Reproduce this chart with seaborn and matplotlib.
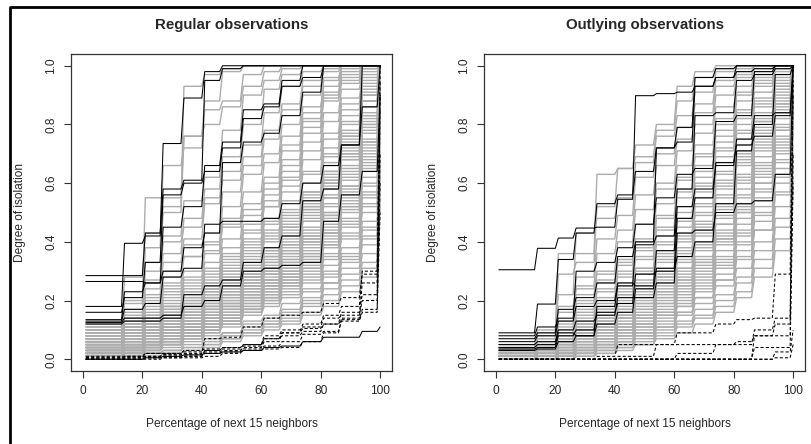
import numpy as np
import pandas as pd
import matplotlib
matplotlib.use("Agg")
import matplotlib.pyplot as plt
import seaborn as sns
from matplotlib.lines import Line2D

# x positions where the step curves change level (percentage of next 15 neighbors)
step_edges = [13.5, 20.5, 26.5, 33.5, 40.5, 46.5, 53.5, 60.5, 66.5, 73.5, 80.5, 86.5, 93.5, 99.5]
x_grid = np.arange(1, 101)

x_ticks = [0, 20, 40, 60, 80, 100]
y_ticks = [0.0, 0.2, 0.4, 0.6, 0.8, 1.0]
titles = ["Regular observations", "Outlying observations"]
x_label = "Percentage of next 15 neighbors"
y_label = "Degree of isolation"

# ---- Regular observations: level of each curve on the 15 steps ----
regular_gray = [
    [0.10, 0.20, 0.55, 0.55, 0.76, 0.88, 0.98, 1.00, 1.00, 1.00, 1.00, 1.00, 1.00, 1.00, 1.00],
    [0.09, 0.28, 0.43, 0.52, 0.93, 0.97, 0.99, 1.00, 1.00, 1.00, 1.00, 1.00, 1.00, 1.00, 1.00],
    [0.08, 0.15, 0.38, 0.66, 0.72, 0.85, 0.88, 0.97, 1.00, 1.00, 1.00, 1.00, 1.00, 1.00, 1.00],
    [0.11, 0.19, 0.33, 0.50, 0.76, 0.80, 0.86, 0.93, 0.98, 1.00, 1.00, 1.00, 1.00, 1.00, 1.00],
    [0.07, 0.14, 0.30, 0.42, 0.54, 0.62, 0.78, 0.90, 0.95, 0.99, 1.00, 1.00, 1.00, 1.00, 1.00],
    [0.06, 0.12, 0.24, 0.36, 0.48, 0.58, 0.69, 0.80, 0.92, 0.97, 1.00, 1.00, 1.00, 1.00, 1.00],
    [0.12, 0.17, 0.27, 0.40, 0.45, 0.55, 0.64, 0.73, 0.84, 0.93, 0.98, 1.00, 1.00, 1.00, 1.00],
    [0.10, 0.16, 0.22, 0.33, 0.41, 0.53, 0.61, 0.69, 0.78, 0.87, 0.95, 0.99, 1.00, 1.00, 1.00],
    [0.09, 0.13, 0.21, 0.28, 0.39, 0.43, 0.57, 0.66, 0.75, 0.85, 0.93, 0.98, 1.00, 1.00, 1.00],
    [0.08, 0.11, 0.18, 0.26, 0.35, 0.40, 0.52, 0.63, 0.70, 0.80, 0.90, 0.96, 0.99, 1.00, 1.00],
    [0.07, 0.10, 0.16, 0.25, 0.30, 0.37, 0.48, 0.57, 0.67, 0.76, 0.86, 0.93, 0.98, 1.00, 1.00],
    [0.06, 0.10, 0.15, 0.22, 0.28, 0.36, 0.46, 0.53, 0.62, 0.73, 0.82, 0.90, 0.96, 0.99, 1.00],
    [0.05, 0.09, 0.14, 0.21, 0.25, 0.33, 0.41, 0.51, 0.58, 0.68, 0.79, 0.88, 0.94, 0.98, 1.00],
    [0.07, 0.09, 0.13, 0.19, 0.24, 0.31, 0.38, 0.46, 0.56, 0.64, 0.74, 0.84, 0.92, 0.97, 1.00],
    [0.04, 0.08, 0.12, 0.18, 0.23, 0.28, 0.36, 0.43, 0.52, 0.62, 0.71, 0.81, 0.89, 0.96, 1.00],
    [0.06, 0.08, 0.12, 0.17, 0.21, 0.27, 0.33, 0.41, 0.48, 0.57, 0.68, 0.77, 0.87, 0.94, 1.00],
    [0.05, 0.07, 0.11, 0.16, 0.20, 0.25, 0.31, 0.38, 0.46, 0.54, 0.64, 0.75, 0.83, 0.92, 0.99],
    [0.03, 0.07, 0.10, 0.15, 0.19, 0.24, 0.30, 0.36, 0.43, 0.51, 0.60, 0.70, 0.81, 0.90, 0.98],
    [0.04, 0.06, 0.10, 0.14, 0.18, 0.23, 0.28, 0.34, 0.41, 0.49, 0.57, 0.67, 0.77, 0.88, 0.97],
    [0.05, 0.06, 0.09, 0.13, 0.17, 0.22, 0.27, 0.32, 0.38, 0.46, 0.54, 0.64, 0.74, 0.86, 0.96],
    [0.03, 0.05, 0.09, 0.12, 0.16, 0.21, 0.26, 0.31, 0.36, 0.43, 0.51, 0.61, 0.71, 0.83, 0.95],
    [0.04, 0.05, 0.08, 0.12, 0.15, 0.20, 0.25, 0.30, 0.35, 0.41, 0.49, 0.58, 0.68, 0.80, 0.93],
    [0.02, 0.05, 0.08, 0.11, 0.15, 0.19, 0.24, 0.28, 0.33, 0.39, 0.47, 0.55, 0.65, 0.77, 0.91],
    [0.03, 0.04, 0.07, 0.11, 0.14, 0.18, 0.23, 0.27, 0.32, 0.37, 0.44, 0.52, 0.62, 0.74, 0.89],
    [0.02, 0.04, 0.07, 0.10, 0.13, 0.17, 0.22, 0.26, 0.30, 0.35, 0.42, 0.50, 0.59, 0.71, 0.87],
    [0.02, 0.04, 0.06, 0.09, 0.12, 0.16, 0.20, 0.24, 0.28, 0.33, 0.40, 0.47, 0.56, 0.68, 0.85],
    [0.01, 0.03, 0.06, 0.09, 0.12, 0.15, 0.19, 0.23, 0.27, 0.31, 0.37, 0.45, 0.53, 0.65, 0.82],
    [0.03, 0.03, 0.05, 0.08, 0.11, 0.14, 0.18, 0.22, 0.25, 0.30, 0.35, 0.42, 0.50, 0.62, 0.80],
    [0.02, 0.03, 0.05, 0.08, 0.10, 0.13, 0.17, 0.21, 0.24, 0.28, 0.33, 0.40, 0.48, 0.59, 0.77],
    [0.01, 0.03, 0.05, 0.07, 0.10, 0.13, 0.16, 0.20, 0.23, 0.27, 0.31, 0.38, 0.45, 0.56, 0.74],
    [0.02, 0.02, 0.04, 0.07, 0.09, 0.12, 0.15, 0.19, 0.22, 0.26, 0.30, 0.36, 0.43, 0.53, 0.71],
    [0.01, 0.02, 0.04, 0.06, 0.09, 0.11, 0.14, 0.18, 0.21, 0.24, 0.28, 0.34, 0.41, 0.50, 0.68],
    [0.00, 0.02, 0.04, 0.06, 0.08, 0.11, 0.14, 0.17, 0.20, 0.23, 0.27, 0.32, 0.38, 0.47, 0.65],
    [0.01, 0.02, 0.03, 0.05, 0.08, 0.10, 0.13, 0.16, 0.19, 0.22, 0.26, 0.30, 0.36, 0.45, 0.62],
    [0.00, 0.01, 0.03, 0.05, 0.07, 0.10, 0.12, 0.15, 0.18, 0.21, 0.24, 0.29, 0.34, 0.42, 0.59],
    [0.10, 0.13, 0.17, 0.24, 0.26, 0.29, 0.34, 0.44, 0.60, 0.71, 0.84, 0.95, 1.00, 1.00, 1.00],
    [0.08, 0.12, 0.19, 0.23, 0.27, 0.30, 0.35, 0.39, 0.47, 0.61, 0.77, 0.91, 0.97, 1.00, 1.00],
    [0.06, 0.09, 0.14, 0.18, 0.22, 0.26, 0.30, 0.40, 0.54, 0.59, 0.63, 0.72, 0.85, 0.95, 1.00],
    [0.04, 0.07, 0.10, 0.13, 0.17, 0.21, 0.29, 0.37, 0.44, 0.50, 0.57, 0.69, 0.80, 0.91, 1.00],
    [0.03, 0.05, 0.08, 0.12, 0.14, 0.18, 0.21, 0.25, 0.29, 0.45, 0.52, 0.60, 0.70, 0.82, 0.97],
    [0.02, 0.04, 0.06, 0.09, 0.11, 0.14, 0.17, 0.21, 0.26, 0.31, 0.42, 0.56, 0.66, 0.78, 0.95],
    [0.01, 0.03, 0.05, 0.07, 0.09, 0.11, 0.14, 0.18, 0.24, 0.29, 0.36, 0.48, 0.61, 0.74, 0.93],
    [0.00, 0.02, 0.03, 0.05, 0.07, 0.09, 0.12, 0.16, 0.21, 0.26, 0.33, 0.43, 0.57, 0.70, 0.90],
    [0.05, 0.08, 0.12, 0.17, 0.20, 0.24, 0.27, 0.29, 0.31, 0.36, 0.41, 0.50, 0.63, 0.79, 0.98],
    [0.09, 0.12, 0.15, 0.20, 0.23, 0.26, 0.32, 0.35, 0.42, 0.48, 0.55, 0.64, 0.76, 0.88, 1.00],
    [0.02, 0.03, 0.05, 0.06, 0.08, 0.10, 0.11, 0.13, 0.15, 0.19, 0.23, 0.28, 0.35, 0.44, 0.70],
    [0.01, 0.02, 0.03, 0.04, 0.06, 0.08, 0.09, 0.12, 0.14, 0.17, 0.21, 0.26, 0.31, 0.39, 0.66],
    [0.00, 0.01, 0.02, 0.03, 0.05, 0.07, 0.09, 0.11, 0.13, 0.16, 0.19, 0.24, 0.29, 0.36, 0.63],
    [0.00, 0.01, 0.02, 0.03, 0.04, 0.06, 0.08, 0.10, 0.12, 0.14, 0.18, 0.22, 0.27, 0.33, 0.60],
    [0.00, 0.00, 0.01, 0.02, 0.03, 0.05, 0.07, 0.09, 0.11, 0.13, 0.16, 0.20, 0.25, 0.31, 0.55],
    [0.00, 0.00, 0.01, 0.02, 0.03, 0.04, 0.06, 0.08, 0.10, 0.12, 0.15, 0.18, 0.23, 0.28, 0.52],
    [0.01, 0.01, 0.02, 0.03, 0.04, 0.05, 0.07, 0.09, 0.12, 0.15, 0.20, 0.26, 0.33, 0.41, 0.68],
    [0.03, 0.04, 0.06, 0.08, 0.10, 0.12, 0.15, 0.17, 0.20, 0.25, 0.31, 0.39, 0.52, 0.66, 0.88],
    [0.04, 0.06, 0.09, 0.11, 0.13, 0.15, 0.18, 0.22, 0.27, 0.34, 0.45, 0.59, 0.73, 0.86, 0.99],
    [0.07, 0.11, 0.13, 0.16, 0.19, 0.22, 0.26, 0.28, 0.34, 0.39, 0.50, 0.62, 0.78, 0.93, 1.00],
    [0.11, 0.14, 0.20, 0.30, 0.35, 0.39, 0.45, 0.49, 0.52, 0.66, 0.81, 0.89, 0.95, 0.99, 1.00],
    [0.05, 0.07, 0.10, 0.14, 0.16, 0.19, 0.22, 0.26, 0.30, 0.38, 0.47, 0.58, 0.70, 0.84, 1.00],
    [0.04, 0.05, 0.08, 0.10, 0.13, 0.17, 0.20, 0.25, 0.29, 0.34, 0.39, 0.46, 0.55, 0.69, 0.92],
    [0.03, 0.04, 0.06, 0.09, 0.12, 0.15, 0.19, 0.24, 0.27, 0.32, 0.38, 0.44, 0.51, 0.60, 0.84],
    [0.02, 0.03, 0.05, 0.07, 0.10, 0.14, 0.17, 0.22, 0.26, 0.30, 0.36, 0.41, 0.47, 0.57, 0.81],
    [0.08, 0.10, 0.12, 0.15, 0.18, 0.21, 0.24, 0.27, 0.33, 0.40, 0.48, 0.55, 0.68, 0.81, 0.99],
    [0.06, 0.07, 0.09, 0.12, 0.15, 0.18, 0.21, 0.25, 0.31, 0.37, 0.43, 0.53, 0.64, 0.75, 0.96],
    [0.01, 0.02, 0.04, 0.06, 0.08, 0.12, 0.16, 0.19, 0.23, 0.28, 0.32, 0.39, 0.46, 0.55, 0.78],
    [0.00, 0.01, 0.03, 0.05, 0.07, 0.09, 0.13, 0.17, 0.22, 0.27, 0.34, 0.43, 0.52, 0.64, 0.86],
    [0.02, 0.04, 0.05, 0.07, 0.09, 0.13, 0.15, 0.20, 0.25, 0.29, 0.35, 0.43, 0.54, 0.67, 0.90],
    [0.07, 0.08, 0.11, 0.13, 0.16, 0.20, 0.23, 0.28, 0.35, 0.42, 0.52, 0.61, 0.72, 0.83, 0.98],
    [0.05, 0.06, 0.08, 0.11, 0.14, 0.17, 0.22, 0.29, 0.37, 0.45, 0.53, 0.63, 0.75, 0.88, 1.00],
    [0.04, 0.05, 0.07, 0.10, 0.12, 0.16, 0.19, 0.23, 0.31, 0.36, 0.41, 0.49, 0.58, 0.72, 0.94],
    [0.03, 0.04, 0.06, 0.08, 0.11, 0.14, 0.18, 0.21, 0.25, 0.33, 0.40, 0.49, 0.59, 0.73, 0.95],
    [0.01, 0.02, 0.04, 0.05, 0.08, 0.10, 0.13, 0.17, 0.21, 0.25, 0.29, 0.35, 0.42, 0.52, 0.75],
    [0.09, 0.11, 0.14, 0.18, 0.21, 0.24, 0.28, 0.31, 0.37, 0.44, 0.51, 0.60, 0.69, 0.80, 0.97],
    [0.06, 0.09, 0.11, 0.15, 0.18, 0.23, 0.27, 0.33, 0.40, 0.47, 0.56, 0.66, 0.76, 0.90, 1.00],
]

regular_black = [
    [0.180, 0.395, 0.42, 0.735, 0.89, 0.98, 1.00, 1.00, 1.00, 1.00, 1.00, 1.00, 1.00, 1.00, 1.00],
    [0.285, 0.285, 0.43, 0.58, 0.61, 0.95, 0.99, 1.00, 1.00, 1.00, 1.00, 1.00, 1.00, 1.00, 1.00],
    [0.265, 0.265, 0.26, 0.45, 0.52, 0.66, 0.74, 0.85, 0.87, 0.95, 1.00, 1.00, 1.00, 1.00, 1.00],
    [0.160, 0.21, 0.33, 0.56, 0.60, 0.64, 0.72, 0.82, 0.86, 0.93, 0.96, 1.00, 1.00, 1.00, 1.00],
    [0.135, 0.23, 0.26, 0.30, 0.38, 0.43, 0.67, 0.74, 0.77, 0.83, 0.91, 1.00, 1.00, 1.00, 1.00],
    [0.130, 0.17, 0.19, 0.28, 0.31, 0.46, 0.47, 0.47, 0.48, 0.53, 0.60, 0.66, 0.73, 1.00, 1.00],
    [0.125, 0.14, 0.14, 0.15, 0.18, 0.20, 0.25, 0.30, 0.31, 0.32, 0.33, 0.47, 0.56, 0.64, 0.90],
    [0.120, 0.13, 0.13, 0.14, 0.22, 0.25, 0.27, 0.33, 0.38, 0.42, 0.54, 0.58, 0.73, 0.86, 1.00],
    [0.000, 0.00, 0.005, 0.01, 0.015, 0.02, 0.025, 0.03, 0.04, 0.045, 0.06, 0.075, 0.075, 0.095, 0.11],
]

regular_dashed = [
    [0.005, 0.005, 0.01, 0.015, 0.02, 0.07, 0.075, 0.11, 0.14, 0.15, 0.16, 0.19, 0.21, 0.29, 1.00],
    [0.000, 0.005, 0.02, 0.02, 0.03, 0.035, 0.04, 0.045, 0.07, 0.09, 0.12, 0.15, 0.18, 0.30, 0.95],
    [0.000, 0.000, 0.005, 0.01, 0.01, 0.03, 0.035, 0.05, 0.08, 0.10, 0.11, 0.14, 0.15, 0.20, 0.85],
    [0.005, 0.01, 0.01, 0.015, 0.015, 0.025, 0.03, 0.04, 0.06, 0.09, 0.105, 0.12, 0.135, 0.17, 0.60],
    [0.000, 0.000, 0.000, 0.005, 0.005, 0.01, 0.02, 0.035, 0.045, 0.06, 0.085, 0.095, 0.13, 0.16, 0.50],
    [0.000, 0.000, 0.005, 0.005, 0.01, 0.02, 0.025, 0.03, 0.035, 0.04, 0.06, 0.09, 0.14, 0.26, 0.70],
    [0.010, 0.010, 0.02, 0.02, 0.025, 0.03, 0.04, 0.05, 0.07, 0.08, 0.095, 0.12, 0.16, 0.22, 0.90],
]

# ---- Outlying observations ----
outlying_gray = [
    [0.04, 0.09, 0.36, 0.36, 0.63, 0.65, 0.73, 0.80, 0.93, 0.98, 1.00, 1.00, 1.00, 1.00, 1.00],
    [0.03, 0.08, 0.29, 0.33, 0.52, 0.65, 0.69, 0.78, 0.88, 0.96, 0.99, 1.00, 1.00, 1.00, 1.00],
    [0.05, 0.10, 0.22, 0.43, 0.48, 0.55, 0.67, 0.76, 0.83, 0.91, 0.98, 0.99, 1.00, 1.00, 1.00],
    [0.02, 0.07, 0.16, 0.28, 0.41, 0.49, 0.62, 0.70, 0.79, 0.87, 0.95, 0.98, 1.00, 1.00, 1.00],
    [0.04, 0.06, 0.12, 0.25, 0.36, 0.44, 0.56, 0.66, 0.75, 0.84, 0.93, 0.97, 0.99, 1.00, 1.00],
    [0.03, 0.05, 0.13, 0.22, 0.30, 0.40, 0.51, 0.60, 0.71, 0.80, 0.90, 0.96, 0.98, 1.00, 1.00],
    [0.02, 0.06, 0.10, 0.19, 0.27, 0.34, 0.46, 0.58, 0.66, 0.77, 0.86, 0.93, 0.97, 0.99, 1.00],
    [0.01, 0.04, 0.09, 0.17, 0.24, 0.32, 0.41, 0.53, 0.62, 0.73, 0.82, 0.90, 0.95, 0.98, 1.00],
    [0.02, 0.04, 0.08, 0.15, 0.21, 0.29, 0.37, 0.48, 0.58, 0.69, 0.78, 0.88, 0.93, 0.97, 1.00],
    [0.01, 0.03, 0.07, 0.13, 0.19, 0.26, 0.34, 0.44, 0.55, 0.64, 0.74, 0.85, 0.91, 0.96, 1.00],
    [0.03, 0.04, 0.06, 0.12, 0.17, 0.24, 0.31, 0.40, 0.50, 0.60, 0.71, 0.82, 0.89, 0.95, 1.00],
    [0.00, 0.03, 0.05, 0.11, 0.16, 0.22, 0.29, 0.37, 0.47, 0.57, 0.67, 0.78, 0.87, 0.93, 0.99],
    [0.02, 0.02, 0.05, 0.10, 0.14, 0.20, 0.27, 0.34, 0.43, 0.53, 0.63, 0.75, 0.84, 0.91, 0.99],
    [0.01, 0.02, 0.04, 0.09, 0.13, 0.18, 0.25, 0.31, 0.40, 0.50, 0.60, 0.71, 0.81, 0.89, 0.98],
    [0.00, 0.02, 0.04, 0.08, 0.12, 0.17, 0.23, 0.29, 0.37, 0.46, 0.56, 0.67, 0.78, 0.87, 0.97],
    [0.01, 0.01, 0.03, 0.07, 0.11, 0.15, 0.21, 0.27, 0.34, 0.43, 0.53, 0.63, 0.74, 0.84, 0.96],
    [0.00, 0.01, 0.03, 0.06, 0.10, 0.14, 0.19, 0.25, 0.31, 0.40, 0.49, 0.60, 0.71, 0.82, 0.95],
    [0.02, 0.01, 0.03, 0.06, 0.09, 0.13, 0.17, 0.23, 0.29, 0.37, 0.46, 0.56, 0.67, 0.79, 0.94],
    [0.00, 0.01, 0.02, 0.05, 0.08, 0.12, 0.16, 0.21, 0.27, 0.34, 0.43, 0.53, 0.64, 0.76, 0.92],
    [0.01, 0.01, 0.02, 0.05, 0.07, 0.11, 0.15, 0.19, 0.25, 0.31, 0.40, 0.50, 0.60, 0.73, 0.90],
    [0.00, 0.00, 0.02, 0.04, 0.07, 0.10, 0.13, 0.18, 0.23, 0.29, 0.37, 0.46, 0.57, 0.70, 0.88],
    [0.00, 0.01, 0.02, 0.04, 0.06, 0.09, 0.12, 0.16, 0.21, 0.27, 0.34, 0.43, 0.54, 0.67, 0.86],
    [0.01, 0.00, 0.01, 0.03, 0.05, 0.08, 0.11, 0.15, 0.19, 0.25, 0.32, 0.40, 0.50, 0.63, 0.83],
    [0.00, 0.00, 0.01, 0.03, 0.05, 0.07, 0.10, 0.14, 0.18, 0.23, 0.29, 0.37, 0.47, 0.60, 0.80],
    [0.00, 0.00, 0.01, 0.02, 0.04, 0.06, 0.09, 0.12, 0.16, 0.21, 0.27, 0.34, 0.44, 0.56, 0.77],
    [0.00, 0.00, 0.01, 0.02, 0.04, 0.06, 0.08, 0.11, 0.15, 0.19, 0.25, 0.31, 0.40, 0.52, 0.73],
    [0.00, 0.00, 0.00, 0.02, 0.03, 0.05, 0.07, 0.10, 0.13, 0.17, 0.22, 0.28, 0.37, 0.48, 0.70],
    [0.00, 0.00, 0.00, 0.01, 0.03, 0.04, 0.06, 0.09, 0.12, 0.15, 0.20, 0.26, 0.34, 0.45, 0.66],
    [0.00, 0.00, 0.00, 0.01, 0.02, 0.04, 0.05, 0.08, 0.11, 0.14, 0.18, 0.23, 0.31, 0.41, 0.62],
    [0.00, 0.00, 0.00, 0.01, 0.02, 0.03, 0.05, 0.07, 0.09, 0.12, 0.16, 0.21, 0.28, 0.37, 0.58],
    [0.04, 0.07, 0.18, 0.24, 0.29, 0.33, 0.38, 0.49, 0.57, 0.66, 0.76, 0.84, 0.94, 0.99, 1.00],
    [0.03, 0.05, 0.11, 0.16, 0.23, 0.28, 0.35, 0.42, 0.52, 0.62, 0.72, 0.80, 0.86, 0.94, 1.00],
    [0.02, 0.04, 0.07, 0.14, 0.20, 0.25, 0.31, 0.39, 0.45, 0.55, 0.64, 0.77, 0.88, 0.93, 1.00],
    [0.01, 0.03, 0.06, 0.11, 0.15, 0.21, 0.26, 0.33, 0.41, 0.49, 0.59, 0.69, 0.79, 0.90, 1.00],
    [0.00, 0.02, 0.04, 0.09, 0.13, 0.17, 0.22, 0.28, 0.36, 0.44, 0.52, 0.62, 0.73, 0.85, 0.98],
    [0.00, 0.01, 0.03, 0.07, 0.10, 0.14, 0.19, 0.24, 0.31, 0.38, 0.46, 0.55, 0.66, 0.78, 0.95],
    [0.00, 0.00, 0.02, 0.04, 0.07, 0.10, 0.14, 0.20, 0.26, 0.33, 0.41, 0.50, 0.60, 0.72, 0.92],
    [0.00, 0.00, 0.01, 0.03, 0.05, 0.08, 0.12, 0.16, 0.22, 0.28, 0.35, 0.44, 0.55, 0.68, 0.89],
    [0.00, 0.00, 0.01, 0.02, 0.04, 0.06, 0.09, 0.13, 0.18, 0.24, 0.31, 0.39, 0.49, 0.62, 0.85],
    [0.00, 0.00, 0.00, 0.02, 0.03, 0.05, 0.08, 0.11, 0.16, 0.21, 0.27, 0.35, 0.44, 0.57, 0.80],
    [0.03, 0.05, 0.08, 0.20, 0.26, 0.30, 0.40, 0.45, 0.61, 0.70, 0.80, 0.91, 0.96, 1.00, 1.00],
    [0.02, 0.03, 0.06, 0.10, 0.18, 0.22, 0.30, 0.36, 0.48, 0.59, 0.69, 0.73, 0.82, 0.87, 1.00],
    [0.01, 0.02, 0.05, 0.08, 0.12, 0.16, 0.20, 0.26, 0.33, 0.42, 0.51, 0.61, 0.72, 0.84, 0.97],
    [0.02, 0.03, 0.06, 0.10, 0.14, 0.19, 0.24, 0.30, 0.38, 0.47, 0.58, 0.68, 0.77, 0.88, 1.00],
    [0.00, 0.01, 0.04, 0.07, 0.10, 0.14, 0.18, 0.22, 0.28, 0.35, 0.44, 0.53, 0.63, 0.75, 0.93],
    [0.01, 0.02, 0.03, 0.06, 0.09, 0.12, 0.17, 0.23, 0.30, 0.39, 0.48, 0.58, 0.69, 0.80, 0.96],
    [0.00, 0.01, 0.02, 0.05, 0.08, 0.11, 0.15, 0.21, 0.27, 0.33, 0.41, 0.51, 0.62, 0.74, 0.91],
    [0.03, 0.04, 0.07, 0.12, 0.17, 0.23, 0.29, 0.35, 0.42, 0.52, 0.61, 0.70, 0.81, 0.92, 1.00],
    [0.00, 0.00, 0.02, 0.03, 0.06, 0.09, 0.12, 0.17, 0.24, 0.30, 0.39, 0.48, 0.58, 0.71, 0.90],
    [0.01, 0.01, 0.02, 0.04, 0.07, 0.10, 0.14, 0.19, 0.25, 0.32, 0.42, 0.52, 0.65, 0.78, 0.95],
    [0.02, 0.03, 0.05, 0.09, 0.11, 0.15, 0.21, 0.28, 0.35, 0.45, 0.55, 0.66, 0.75, 0.86, 0.99],
    [0.00, 0.00, 0.01, 0.03, 0.05, 0.08, 0.11, 0.15, 0.20, 0.26, 0.33, 0.42, 0.52, 0.65, 0.86],
]

outlying_black = [
    [0.305, 0.378, 0.413, 0.447, 0.450, 0.545, 0.898, 0.905, 0.910, 0.930, 0.960, 0.980, 0.990, 1.00, 1.00],
    [0.090, 0.188, 0.340, 0.430, 0.530, 0.560, 0.640, 0.720, 0.790, 0.960, 0.990, 1.00, 1.00, 1.00, 1.00],
    [0.080, 0.110, 0.140, 0.300, 0.330, 0.380, 0.460, 0.550, 0.630, 0.650, 0.810, 0.830, 0.980, 1.00, 1.00],
    [0.070, 0.090, 0.170, 0.210, 0.260, 0.350, 0.400, 0.720, 0.740, 0.930, 0.960, 1.00, 1.00, 1.00, 1.00],
    [0.060, 0.080, 0.130, 0.180, 0.200, 0.260, 0.250, 0.370, 0.520, 0.580, 0.660, 0.750, 0.830, 0.840, 1.00],
    [0.050, 0.060, 0.100, 0.130, 0.150, 0.210, 0.210, 0.260, 0.430, 0.440, 0.500, 0.530, 0.540, 0.630, 1.00],
    [0.040, 0.050, 0.090, 0.080, 0.120, 0.160, 0.240, 0.310, 0.480, 0.550, 0.670, 0.730, 0.760, 0.830, 1.00],
    [0.035, 0.040, 0.080, 0.100, 0.160, 0.190, 0.290, 0.300, 0.350, 0.400, 0.530, 0.710, 0.800, 0.970, 1.00],
    [0.030, 0.035, 0.060, 0.080, 0.180, 0.250, 0.390, 0.420, 0.580, 0.830, 0.840, 0.950, 0.970, 0.990, 1.00],
]

outlying_dashed = [
    [0.0, 0.0, 0.0, 0.0, 0.0, 0.01, 0.01, 0.05, 0.09, 0.09, 0.12, 0.135, 0.14, 0.29, 1.00],
    [0.0, 0.0, 0.0, 0.0, 0.0, 0.0, 0.0, 0.0, 0.02, 0.02, 0.05, 0.06, 0.08, 0.12, 0.95],
    [0.0, 0.0, 0.0, 0.0, 0.01, 0.05, 0.05, 0.05, 0.05, 0.05, 0.05, 0.05, 0.10, 0.14, 0.90],
    [0.0, 0.0, 0.0, 0.0, 0.0, 0.0, 0.0, 0.0, 0.0, 0.0, 0.0, 0.0, 0.0, 0.025, 0.10],
    [0.0, 0.0, 0.0, 0.0, 0.0, 0.0, 0.0, 0.0, 0.0, 0.0, 0.0, 0.0, 0.0, 0.005, 0.05],
    [0.0, 0.0, 0.0, 0.0, 0.0, 0.0, 0.0, 0.0, 0.0, 0.0, 0.0, 0.0, 0.04, 0.04, 0.60],
    [0.0, 0.0, 0.0, 0.0, 0.0, 0.0, 0.0, 0.0, 0.0, 0.0, 0.0, 0.0, 0.08, 0.08, 0.70],
]

panels = [
    (regular_gray, regular_black, regular_dashed),
    (outlying_gray, outlying_black, outlying_dashed),
]


def long_frame(rows):
    seg = np.searchsorted(step_edges, x_grid)
    parts = []
    for i, levels in enumerate(rows):
        parts.append(pd.DataFrame({"x": x_grid, "y": np.asarray(levels)[seg], "line": i}))
    return pd.concat(parts, ignore_index=True)


sns.set_theme(style="white")
plt.rcParams["font.family"] = ["Liberation Sans", "DejaVu Sans"]

fig = plt.figure(figsize=(8.12, 4.44), dpi=100)
axes = [
    fig.add_axes([71 / 812, 73 / 444, 321 / 812, 317 / 444]),
    fig.add_axes([484 / 812, 73 / 444, 321 / 812, 317 / 444]),
]

for ax, title, (gray_rows, black_rows, dashed_rows) in zip(axes, titles, panels):
    sns.lineplot(data=long_frame(gray_rows), x="x", y="y", units="line", estimator=None,
                 sort=False, color="#acacac", lw=1.0, ax=ax, legend=False)
    sns.lineplot(data=long_frame(black_rows), x="x", y="y", units="line", estimator=None,
                 sort=False, color="black", lw=0.75, ax=ax, legend=False)
    sns.lineplot(data=long_frame(dashed_rows), x="x", y="y", units="line", estimator=None,
                 sort=False, color="black", lw=0.75, linestyle=(0, (3, 2)), ax=ax, legend=False)

    ax.set_xlim(-4, 104)
    ax.set_ylim(-0.04, 1.04)
    ax.set_xticks(x_ticks)
    ax.set_xticklabels([str(v) for v in x_ticks])
    ax.set_yticks(y_ticks)
    ax.set_yticklabels([f"{v:.1f}" for v in y_ticks])
    ax.tick_params(axis="both", direction="out", length=5, width=0.8, color="#333333",
                   labelsize=8.6, pad=5, bottom=True, left=True)
    ax.tick_params(axis="y", labelrotation=90)
    for lab in ax.get_yticklabels():
        lab.set_va("center")
    for s in ax.spines.values():
        s.set_color("#333333")
        s.set_linewidth(0.9)

    ax.set_xlabel(x_label, fontsize=8.6)
    ax.xaxis.set_label_coords(0.5, -0.167)
    ax.xaxis.label.set_va("center")
    ax.set_ylabel(y_label, fontsize=8.6)
    ax.yaxis.set_label_coords(-0.159, 0.5)
    ax.yaxis.label.set_va("center")
    ax.text(0.5, 1.0915, title, transform=ax.transAxes, ha="center", va="center",
            fontsize=10.8, fontweight="bold")

# black frame of the original screenshot (left and top edges)
fig.add_artist(Line2D([10 / 812, 10 / 812, 1.0], [0.0, 1 - 7.5 / 444, 1 - 7.5 / 444],
                      transform=fig.transFigure, color="black", lw=2.0))

fig.savefig("out.png", dpi=100)
plt.close(fig)
